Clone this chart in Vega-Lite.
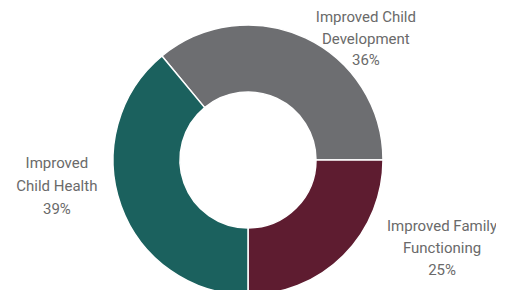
{
  "$schema": "https://vega.github.io/schema/vega-lite/v6.json",
  "width": 496,
  "height": 320,
  "autosize": "none",
  "padding": 0,
  "background": "white",
  "view": {"stroke": null},
  "data": {
    "values": [
      {"category": "Improved Child Development", "display": "Improved Child\nDevelopment\n36%", "value": 36},
      {"category": "Improved Family Functioning", "display": "Improved Family\nFunctioning\n25%", "value": 25},
      {"category": "Improved Child Health", "display": "Improved\nChild Health\n39%", "value": 39}
    ]
  },
  "encoding": {
    "theta": {"field": "value", "type": "quantitative", "stack": true, "scale": {"range": [1.5708, 7.854]}},
    "order": {"field": "category", "sort": "descending"}
  },
  "layer": [
    {
      "mark": {"type": "arc", "outerRadius": 135, "innerRadius": 68, "stroke": "white", "strokeWidth": 1.5},
      "encoding": {
        "color": {
          "field": "category",
          "type": "nominal",
          "legend": null,
          "scale": {
            "domain": ["Improved Child Development", "Improved Family Functioning", "Improved Child Health"],
            "range": ["#6d6e71", "#5e1c30", "#1b615e"]
          }
        }
      }
    },
    {
      "mark": {"type": "text", "radius": 150, "dx": 54, "dy": -7, "align": "center", "baseline": "middle", "lineBreak": "\n", "lineHeight": 21.5, "font": "Roboto", "fontSize": 15, "color": "#6a6a6a"},
      "encoding": {
        "text": {"condition": {"test": "datum.category === 'Improved Child Development'", "field": "display"}, "value": ""}
      }
    },
    {
      "mark": {"type": "text", "radius": 150, "dx": 88, "dy": -40, "align": "center", "baseline": "middle", "lineBreak": "\n", "lineHeight": 22, "font": "Roboto", "fontSize": 15, "color": "#6a6a6a"},
      "encoding": {
        "text": {"condition": {"test": "datum.category === 'Improved Family Functioning'", "field": "display"}, "value": ""}
      }
    },
    {
      "mark": {"type": "text", "radius": 150, "dx": -50, "dy": -48, "align": "center", "baseline": "middle", "lineBreak": "\n", "lineHeight": 23, "font": "Roboto", "fontSize": 15, "color": "#6a6a6a"},
      "encoding": {
        "text": {"condition": {"test": "datum.category === 'Improved Child Health'", "field": "display"}, "value": ""}
      }
    }
  ]
}
